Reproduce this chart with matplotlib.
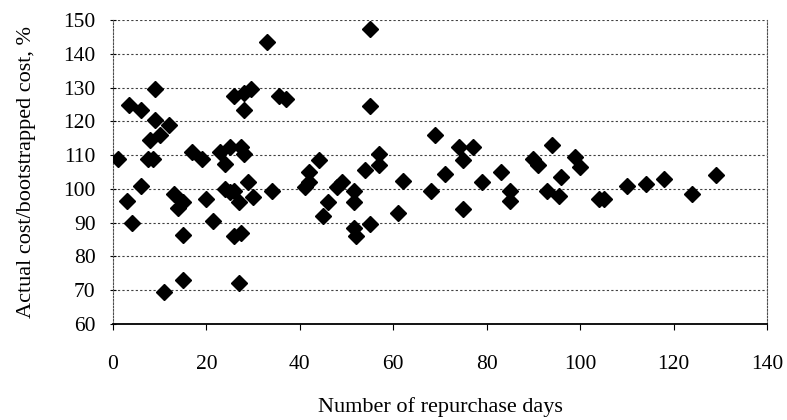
import matplotlib
matplotlib.use("Agg")
from matplotlib import pyplot as plt
import numpy as np

plt.rcParams['font.family'] = ['Liberation Serif', 'DejaVu Serif']

# repurchase days vs actual/bootstrapped cost (%)
days = [1, 3, 3.5, 4, 6, 6, 7.5, 8, 8.5, 9, 9, 10, 11, 12, 13, 14, 15, 15, 15,
        17, 19, 20, 21.5, 23, 24, 24, 25, 25, 26, 26, 26, 27.5, 27, 27, 27.5,
        28, 28, 28, 29.5, 29, 30, 33, 34, 35.5, 37, 41, 42, 42, 44, 45, 46,
        48, 49, 51.5, 51.5, 51.5, 52, 54, 55, 55, 55, 57, 57, 61, 62, 68,
        69, 71, 74, 75, 75, 77, 79, 83, 85, 85, 90, 91, 93, 94, 95.5, 96,
        99, 100, 104, 105, 110, 114, 118, 124, 129]
cost = [109, 96.5, 125, 90, 123.5, 101, 109, 114.5, 109, 129.5, 120.5, 116, 69.5,
        119, 98.5, 94.5, 96, 86.5, 73, 111, 109, 97, 90.5, 111, 107.5, 100,
        99, 112.5, 127.5, 99.5, 86, 112.5, 96, 72, 87, 128.5, 123.5, 110.5,
        129.5, 102, 97.5, 143.5, 99.5, 127.5, 126.5, 100.5, 102, 105, 108.5,
        92, 96, 100.5, 102, 99.5, 96, 88.5, 86, 105.5, 147.5, 124.5, 89.5,
        110.5, 107, 93, 102.5, 99.5, 116, 104.5, 112.5, 108.5, 94, 112.5,
        102, 105, 99.5, 96.5, 109, 107, 99.5, 113, 98, 103.5, 109.5, 106.5,
        97, 97, 101, 101.5, 103, 98.5, 104]

fig = plt.figure(figsize=(7.87, 4.2), dpi=100)
ax = fig.add_axes([0.1436, 0.2286, 0.831, 0.7234])

ax.plot(days, cost, linestyle='none', marker='D', markersize=8.2,
        color='black', zorder=3)

ax.set_xlim(0, 140)
ax.set_ylim(60, 150)
ax.set_xticks(np.arange(0, 141, 20))
ax.set_yticks(np.arange(60, 151, 10))

# dotted horizontal grid
ax.yaxis.grid(True, linestyle=(0, (2, 2)), color='0.25', linewidth=0.8)
ax.set_axisbelow(True)

for side in ['left', 'right', 'top']:
    ax.spines[side].set_linestyle((0, (1.5, 1.5)))
    ax.spines[side].set_linewidth(0.8)
    ax.spines[side].set_color('0.3')
ax.spines['top'].set_visible(False)
ax.spines['bottom'].set_linewidth(1.3)

ax.tick_params(axis='x', direction='out', length=4, width=0.8,
               labelsize=15.5, pad=18)
ax.tick_params(axis='y', direction='inout', length=5, width=0.8,
               labelsize=15.5, pad=10)

ax.set_xlabel('Number of repurchase days', fontsize=16, labelpad=17)
ax.set_ylabel('Actual cost/bootstrapped cost, %', fontsize=16, labelpad=4)
ax.yaxis.set_label_coords(-0.117, 0.5)

plt.savefig('out.png', dpi=100)
